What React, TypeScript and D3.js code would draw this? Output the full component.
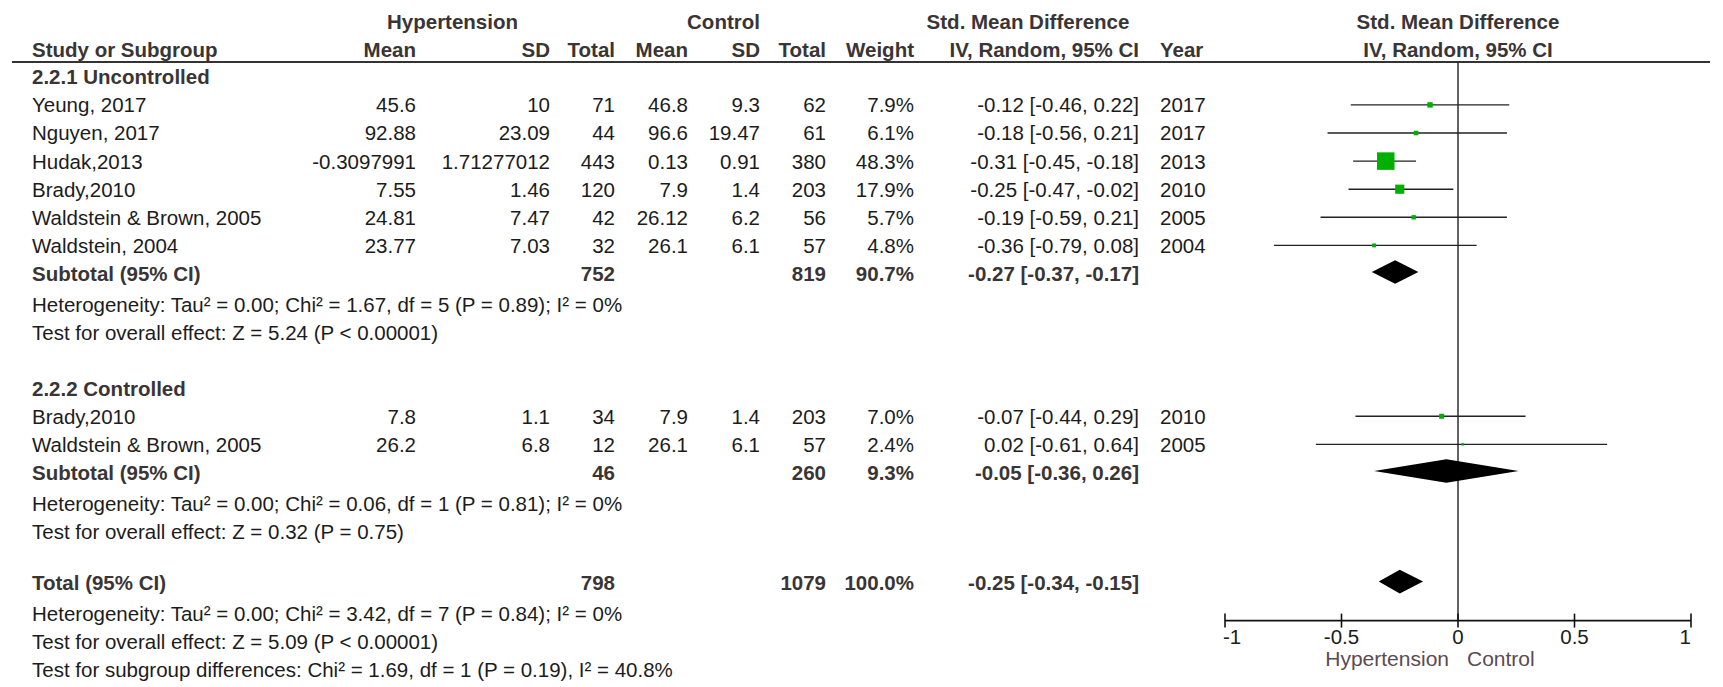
import React, { useEffect } from "react";
import * as d3 from "d3";

// ---------- data ----------
const studyNames = [
  "Yeung, 2017",
  "Nguyen, 2017",
  "Hudak,2013",
  "Brady,2010",
  "Waldstein & Brown, 2005",
  "Waldstein, 2004",
  "Brady,2010",
  "Waldstein & Brown, 2005",
];
const studyGroup = [0, 0, 0, 0, 0, 0, 1, 1];
const hypMean = ["45.6", "92.88", "-0.3097991", "7.55", "24.81", "23.77", "7.8", "26.2"];
const hypSD = ["10", "23.09", "1.71277012", "1.46", "7.47", "7.03", "1.1", "6.8"];
const hypTotal = [71, 44, 443, 120, 42, 32, 34, 12];
const ctrlMean = ["46.8", "96.6", "0.13", "7.9", "26.12", "26.1", "7.9", "26.1"];
const ctrlSD = ["9.3", "19.47", "0.91", "1.4", "6.2", "6.1", "1.4", "6.1"];
const ctrlTotal = [62, 61, 380, 203, 56, 57, 203, 57];
const weights = [7.9, 6.1, 48.3, 17.9, 5.7, 4.8, 7.0, 2.4];
const smd = [-0.12, -0.18, -0.31, -0.25, -0.19, -0.36, -0.07, 0.02];
const smdLo = [-0.46, -0.56, -0.45, -0.47, -0.59, -0.79, -0.44, -0.61];
const smdHi = [0.22, 0.21, -0.18, -0.02, 0.21, 0.08, 0.29, 0.64];
const years = [2017, 2017, 2013, 2010, 2005, 2004, 2010, 2005];

const groupLabels = ["2.2.1 Uncontrolled", "2.2.2 Controlled"];
const groupHypTotal = [752, 46];
const groupCtrlTotal = [819, 260];
const groupWeight = [90.7, 9.3];
const groupSmd = [-0.27, -0.05];
const groupLo = [-0.37, -0.36];
const groupHi = [-0.17, 0.26];
const groupHet = [
  "Heterogeneity: Tau\u00b2 = 0.00; Chi\u00b2 = 1.67, df = 5 (P = 0.89); I\u00b2 = 0%",
  "Heterogeneity: Tau\u00b2 = 0.00; Chi\u00b2 = 0.06, df = 1 (P = 0.81); I\u00b2 = 0%",
];
const groupTest = [
  "Test for overall effect: Z = 5.24 (P < 0.00001)",
  "Test for overall effect: Z = 0.32 (P = 0.75)",
];

const totalHyp = 798;
const totalCtrl = 1079;
const totalWeight = 100.0;
const totalSmd = -0.25;
const totalLo = -0.34;
const totalHi = -0.15;
const totalHet = "Heterogeneity: Tau\u00b2 = 0.00; Chi\u00b2 = 3.42, df = 7 (P = 0.84); I\u00b2 = 0%";
const totalTest = "Test for overall effect: Z = 5.09 (P < 0.00001)";
const subgroupTest = "Test for subgroup differences: Chi\u00b2 = 1.69, df = 1 (P = 0.19), I\u00b2 = 40.8%";

const axisTicks = [-1, -0.5, 0, 0.5, 1];
const axisLeftLabel = "Hypertension";
const axisRightLabel = "Control";

// ---------- layout ----------
const W = 1723;
const H = 687;
const FONT = "'Liberation Sans', Arial, Helvetica, sans-serif";
const FS = 20.5;
const TXT = "#1c1c1c";
const BOLD = "#3a3535";

const colX = {
  name: 32,
  hMean: 416,
  hSD: 550,
  hTot: 615,
  cMean: 688,
  cSD: 760,
  cTot: 826,
  weight: 914,
  ci: 1139,
  year: 1160,
};

const x = d3.scaleLinear().domain([-1, 1]).range([1225, 1691]);
const rowY = d3.scaleLinear().domain([0, 1]).range([76.8, 104.9]);
const sq = d3.scalePow().exponent(0.65).domain([0, 48.3]).range([0, 17.5]);

const fmt2 = (v: number) => v.toFixed(2);
const ciText = (e: number, l: number, h: number) => `${fmt2(e)} [${fmt2(l)}, ${fmt2(h)}]`;
const pct = (v: number) => `${v.toFixed(1)}%`;

function diamondPath(e: number, l: number, h: number, cy: number, hh: number) {
  const pts: [number, number][] = [
    [x(l), cy],
    [x(e), cy - hh],
    [x(h), cy],
    [x(e), cy + hh],
  ];
  return d3.line()(pts) + "Z";
}

export default function App() {
  useEffect(() => {
    document.body.style.margin = "0";
  }, []);

  type Row =
    | { kind: "group"; k: number; g: number }
    | { kind: "study"; k: number; i: number }
    | { kind: "sub"; k: number; g: number }
    | { kind: "note"; k: number; text: string }
    | { kind: "total"; k: number };
  const rows: Row[] = [];
  let k = 0;
  groupLabels.forEach((_, g) => {
    const off = g === 1 ? 0.08 : 0;
    rows.push({ kind: "group", k: k++ + off, g });
    studyNames.forEach((_, i) => {
      if (studyGroup[i] === g) rows.push({ kind: "study", k: k++ + off, i });
    });
    rows.push({ kind: "sub", k: k++ + off, g });
    rows.push({ kind: "note", k: k++ + 0.1 + off, text: groupHet[g] });
    rows.push({ kind: "note", k: k++ + 0.1 + off, text: groupTest[g] });
    k++; // blank
  });
  rows.push({ kind: "total", k: k++ });
  const totalK = k - 1;
  rows.push({ kind: "note", k: k++ + 0.1, text: totalHet });
  rows.push({ kind: "note", k: k++ + 0.1, text: totalTest });
  rows.push({ kind: "note", k: k++ + 0.1, text: subgroupTest });

  const axisY = rowY(totalK) + 38;
  const ty = (c: number) => c + 7.4;

  const T = (props: any) => (
    <text fontFamily={FONT} fontSize={FS} fill={TXT} {...props} />
  );
  const B = (props: any) => (
    <text fontFamily={FONT} fontSize={FS} fill={BOLD} fontWeight="bold" {...props} />
  );

  const plotTop = 62;

  return (
    <svg
      width={W}
      height={H}
      viewBox={`0 0 ${W} ${H}`}
      style={{ position: "absolute", left: 0, top: 0, background: "#fff" }}
    >
      <rect x={0} y={0} width={W} height={H} fill="#fff" />
      {/* headers */}
      <B x={452.5} y={29} textAnchor="middle">Hypertension</B>
      <B x={723.5} y={29} textAnchor="middle">Control</B>
      <B x={1028} y={29} textAnchor="middle">Std. Mean Difference</B>
      <B x={(x(-1) + x(1)) / 2} y={29} textAnchor="middle">Std. Mean Difference</B>

      <B x={colX.name} y={56.5}>Study or Subgroup</B>
      <B x={colX.hMean} y={56.5} textAnchor="end">Mean</B>
      <B x={colX.hSD} y={56.5} textAnchor="end">SD</B>
      <B x={colX.hTot} y={56.5} textAnchor="end">Total</B>
      <B x={colX.cMean} y={56.5} textAnchor="end">Mean</B>
      <B x={colX.cSD} y={56.5} textAnchor="end">SD</B>
      <B x={colX.cTot} y={56.5} textAnchor="end">Total</B>
      <B x={colX.weight} y={56.5} textAnchor="end">Weight</B>
      <B x={colX.ci} y={56.5} textAnchor="end">IV, Random, 95% CI</B>
      <B x={colX.year} y={56.5}>Year</B>
      <B x={(x(-1) + x(1)) / 2} y={56.5} textAnchor="middle">IV, Random, 95% CI</B>

      <line x1={12} x2={1710} y1={plotTop} y2={plotTop} stroke="#333" strokeWidth={2} />

      {/* zero line */}
      <line x1={x(0)} x2={x(0)} y1={plotTop} y2={axisY} stroke="#222" strokeWidth={1.4} />

      {rows.map((r, idx) => {
        const cy = rowY(r.k);
        if (r.kind === "group") {
          return (
            <B key={idx} x={colX.name} y={ty(cy)}>{groupLabels[r.g]}</B>
          );
        }
        if (r.kind === "note") {
          return (
            <T key={idx} x={colX.name} y={ty(cy)}>{r.text}</T>
          );
        }
        if (r.kind === "study") {
          const i = r.i;
          const s = sq(weights[i]);
          return (
            <g key={idx}>
              <T x={colX.name} y={ty(cy)}>{studyNames[i]}</T>
              <T x={colX.hMean} y={ty(cy)} textAnchor="end">{hypMean[i]}</T>
              <T x={colX.hSD} y={ty(cy)} textAnchor="end">{hypSD[i]}</T>
              <T x={colX.hTot} y={ty(cy)} textAnchor="end">{hypTotal[i]}</T>
              <T x={colX.cMean} y={ty(cy)} textAnchor="end">{ctrlMean[i]}</T>
              <T x={colX.cSD} y={ty(cy)} textAnchor="end">{ctrlSD[i]}</T>
              <T x={colX.cTot} y={ty(cy)} textAnchor="end">{ctrlTotal[i]}</T>
              <T x={colX.weight} y={ty(cy)} textAnchor="end">{pct(weights[i])}</T>
              <T x={colX.ci} y={ty(cy)} textAnchor="end">{ciText(smd[i], smdLo[i], smdHi[i])}</T>
              <T x={colX.year} y={ty(cy)}>{years[i]}</T>
              <line x1={x(smdLo[i])} x2={x(smdHi[i])} y1={cy} y2={cy} stroke="#222" strokeWidth={1.4} />
              <rect x={x(smd[i]) - s / 2} y={cy - s / 2} width={s} height={s} fill="#00b000" />
            </g>
          );
        }
        if (r.kind === "sub") {
          const g = r.g;
          return (
            <g key={idx}>
              <B x={colX.name} y={ty(cy)}>Subtotal (95% CI)</B>
              <B x={colX.hTot} y={ty(cy)} textAnchor="end">{groupHypTotal[g]}</B>
              <B x={colX.cTot} y={ty(cy)} textAnchor="end">{groupCtrlTotal[g]}</B>
              <B x={colX.weight} y={ty(cy)} textAnchor="end">{pct(groupWeight[g])}</B>
              <B x={colX.ci} y={ty(cy)} textAnchor="end">{ciText(groupSmd[g], groupLo[g], groupHi[g])}</B>
              <path d={diamondPath(groupSmd[g], groupLo[g], groupHi[g], cy - 1.5, 11.8)} fill="#000" />
            </g>
          );
        }
        return (
          <g key={idx}>
            <B x={colX.name} y={ty(cy)}>Total (95% CI)</B>
            <B x={colX.hTot} y={ty(cy)} textAnchor="end">{totalHyp}</B>
            <B x={colX.cTot} y={ty(cy)} textAnchor="end">{totalCtrl}</B>
            <B x={colX.weight} y={ty(cy)} textAnchor="end">{pct(totalWeight)}</B>
            <B x={colX.ci} y={ty(cy)} textAnchor="end">{ciText(totalSmd, totalLo, totalHi)}</B>
            <path d={diamondPath(totalSmd, totalLo, totalHi, cy - 1, 11.8)} fill="#000" />
          </g>
        );
      })}

      {/* axis */}
      <g>
        <line x1={x(-1)} x2={x(1)} y1={axisY} y2={axisY} stroke="#111" strokeWidth={1.6} />
        {axisTicks.map((t, i) => (
          <g key={t}>
            <line x1={x(t)} x2={x(t)} y1={axisY - 7} y2={axisY + 7} stroke="#111" strokeWidth={1.6} />
            <T
              x={x(t) + (i === 0 ? -2 : 0)}
              y={axisY + 23}
              textAnchor={i === 0 ? "start" : i === axisTicks.length - 1 ? "end" : "middle"}
            >
              {String(t)}
            </T>
          </g>
        ))}
        <text x={x(0) - 9} y={axisY + 45} textAnchor="end" fontFamily={FONT} fontSize={21} fill="#5b4b51">
          {axisLeftLabel}
        </text>
        <text x={x(0) + 9} y={axisY + 45} textAnchor="start" fontFamily={FONT} fontSize={21} fill="#5b4b51">
          {axisRightLabel}
        </text>
      </g>
    </svg>
  );
}
